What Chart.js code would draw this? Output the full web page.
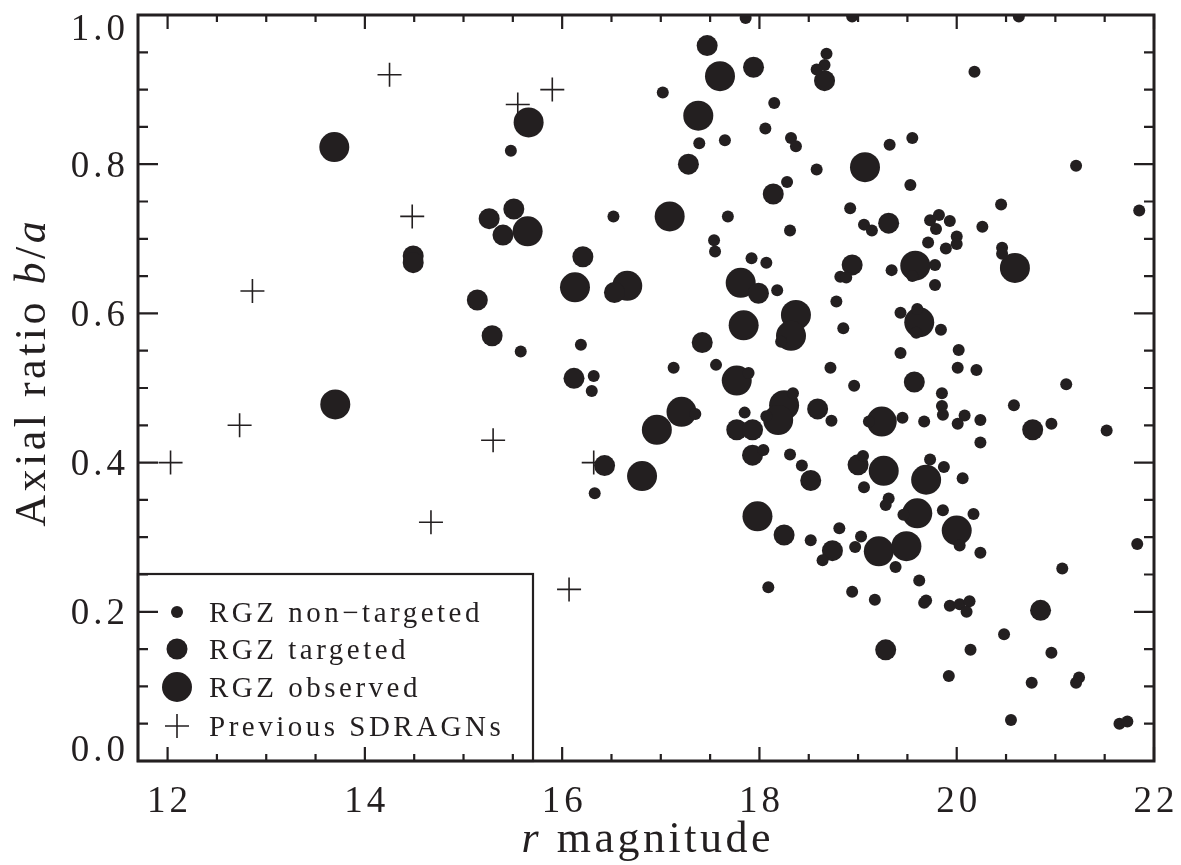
<!DOCTYPE html>
<html><head><meta charset="utf-8">
<script src="https://cdn.jsdelivr.net/npm/chart.js@4/dist/chart.umd.min.js"></script>
<style>html,body{margin:0;padding:0;background:#fff}#wrap{width:1181px;height:865px;position:relative}</style>
</head><body><div id="wrap"><canvas id="c"></canvas></div>
<script>
// ---- data: [r magnitude, axial ratio b/a] ----
const nonTargeted = [
[15.48,0.818],[15.58,0.549],[16.52,0.730],[16.19,0.558],[16.32,0.516],[16.30,0.496],[16.33,0.359],
[17.02,0.896],[17.39,0.828],[17.65,0.832],[17.68,0.730],[17.54,0.698],[17.55,0.683],[17.86,0.996],[18.94,0.998],[20.63,0.998],
[18.68,0.948],[18.66,0.933],[18.58,0.927],[20.18,0.924],[18.15,0.882],[18.06,0.848],[18.32,0.835],[18.37,0.824],[19.32,0.826],[19.55,0.835],
[18.58,0.793],[21.21,0.798],[18.28,0.776],[19.53,0.772],[18.31,0.711],[18.92,0.741],[19.06,0.719],[19.14,0.711],[20.45,0.746],[21.85,0.738],
[19.73,0.725],[19.82,0.732],[19.93,0.724],[19.79,0.713],[20.26,0.716],[20.00,0.703],[20.00,0.693],[19.71,0.695],[19.89,0.687],[20.46,0.688],[20.46,0.680],
[17.92,0.674],[18.07,0.668],[18.18,0.631],[18.82,0.649],[18.88,0.648],[19.34,0.658],[19.78,0.665],[19.55,0.650],[19.78,0.638],
[18.78,0.616],[18.22,0.562],[18.85,0.580],[19.43,0.601],[19.60,0.606],[19.59,0.574],[19.84,0.578],[19.43,0.547],[20.02,0.551],
[17.13,0.527],[17.56,0.531],[17.89,0.520],[18.72,0.527],[18.96,0.503],[20.01,0.527],[20.20,0.524],[21.11,0.505],[19.85,0.493],[19.85,0.476],[19.86,0.464],[20.08,0.463],[20.01,0.452],[20.24,0.457],[20.24,0.427],[20.58,0.477],[20.96,0.452],[21.52,0.443],
[17.35,0.465],[17.85,0.467],[18.34,0.493],[18.07,0.462],[18.73,0.456],[19.11,0.455],[19.45,0.460],[19.67,0.455],
[18.04,0.417],[18.31,0.411],[18.43,0.396],[19.05,0.409],[19.06,0.367],[19.73,0.404],[19.87,0.394],[20.06,0.379],
[18.52,0.296],[18.81,0.312],[18.64,0.269],[19.03,0.301],[18.97,0.287],[19.38,0.260],[19.31,0.352],[19.28,0.343],[19.46,0.330],[19.86,0.336],[20.03,0.289],[20.17,0.331],[20.24,0.279],[19.62,0.242],[18.94,0.227],[19.17,0.216],[19.69,0.215],[19.67,0.212],[19.93,0.208],[20.03,0.210],[20.13,0.214],[20.10,0.200],[20.48,0.170],[21.07,0.258],[21.83,0.291],[18.09,0.233],
[20.14,0.149],[20.96,0.145],[19.92,0.114],[20.76,0.105],[21.24,0.112],[21.21,0.105],[20.55,0.055],[21.65,0.050],[21.73,0.053]
];
const targeted = [
[14.49,0.677],[14.49,0.668],[15.26,0.727],[15.51,0.740],[15.40,0.705],[15.14,0.618],[15.29,0.570],[16.21,0.676],[16.53,0.628],[16.12,0.513],[16.43,0.396],
[17.47,0.959],[17.94,0.930],[18.66,0.912],[17.28,0.800],[18.14,0.760],[19.31,0.721],[18.94,0.665],[17.99,0.627],[17.42,0.561],[19.57,0.508],[18.59,0.472],
[17.77,0.444],[17.93,0.444],[20.77,0.444],[17.93,0.410],[18.52,0.376],[19.00,0.397],[18.25,0.303],[18.74,0.282],[20.85,0.202],[19.28,0.149]
];
const observed = [
[13.69,0.823],[13.70,0.478],[15.66,0.856],[15.65,0.710],[16.13,0.635],[16.66,0.637],[17.09,0.730],[17.60,0.918],[17.38,0.865],[17.81,0.641],
[17.84,0.584],[18.37,0.598],[18.32,0.570],[19.07,0.796],[19.58,0.664],[19.62,0.588],[20.59,0.661],[17.77,0.510],[17.21,0.468],[16.96,0.444],
[18.25,0.477],[18.19,0.457],[19.24,0.455],[16.81,0.382],[19.26,0.389],[19.69,0.377],[17.98,0.328],[19.21,0.281],[19.49,0.288],[19.60,0.332],[20.00,0.309]
];
const previousSDRAGNs = [
[12.03,0.40],[12.73,0.45],[12.86,0.63],[14.25,0.92],[14.48,0.73],[14.67,0.32],[15.30,0.43],[15.55,0.88],[15.90,0.90],[16.07,0.23],[16.32,0.40]
];
const seriesLabels = ['RGZ non\u2212targeted','RGZ targeted','RGZ observed','Previous SDRAGNs'];
const xMajorTicks = [12,14,16,18,20,22];
const yMajorTicks = [0.0,0.2,0.4,0.6,0.8,1.0];
const xMinorStep = 0.5, yMinorStep = 0.05;
const xRange = [11.7, 22], yRange = [0, 1];

// ---- styling ----
const INK = '#231f20';
const SERIF = '"Liberation Serif", "Times New Roman", serif';
const toXY = a => a.map(p => ({x:p[0], y:p[1]}));
const styles = [
  {pointStyle:'circle', radius:6, borderWidth:0},
  {pointStyle:'circle', radius:10.5, borderWidth:0},
  {pointStyle:'circle', radius:15, borderWidth:0},
  {pointStyle:'cross', radius:12, borderWidth:1.6}
];
const seriesData = [nonTargeted, targeted, observed, previousSDRAGNs];

function spaced(ctx, text, x, y, align, spacing){
  ctx.letterSpacing = spacing + 'px';
  const w = ctx.measureText(text).width - spacing;
  let sx = x;
  if (align === 'center') sx = x - w/2;
  else if (align === 'right') sx = x - w;
  ctx.textAlign = 'left';
  ctx.fillText(text, sx, y);
  ctx.letterSpacing = '0px';
  return w;
}

const framePlugin = {
  id: 'frame',
  afterDatasetsDraw(chart){
    const {ctx, chartArea:a, scales:{x, y}} = chart;
    ctx.save();
    ctx.strokeStyle = INK; ctx.fillStyle = INK;
    // legend box
    ctx.lineWidth = 2.2;
    const lx0 = a.left, lx1 = 533, ly0 = 574;
    ctx.strokeRect(lx0, ly0, lx1 - lx0, a.bottom - ly0);
    const rows = [612, 649, 687, 726];
    ctx.font = '29px ' + SERIF;
    ctx.textBaseline = 'alphabetic';
    for (let i = 0; i < 4; i++){
      const st = styles[i];
      ctx.fillStyle = INK; ctx.strokeStyle = INK; ctx.lineWidth = st.borderWidth;
      Chart.helpers.drawPoint(ctx, {pointStyle: st.pointStyle, radius: st.radius, borderWidth: st.borderWidth, rotation: 0}, 177, rows[i]);
      ctx.fillStyle = INK;
      spaced(ctx, seriesLabels[i], 209, rows[i] + 10, 'left', 3.5);
    }
    // axes box
    ctx.strokeStyle = INK; ctx.lineWidth = 3;
    ctx.strokeRect(a.left, a.top, a.right - a.left, a.bottom - a.top);
    // ticks
    ctx.lineWidth = 2.2;
    ctx.beginPath();
    const x0 = xMajorTicks[0], x1 = xMajorTicks[xMajorTicks.length-1];
    for (let i = 0; x0 + i*xMinorStep <= x1 + 1e-9; i++){
      const v = x0 + i*xMinorStep;
      const major = xMajorTicks.some(t => Math.abs(t - v) < 1e-9);
      const L = major ? 14 : 7;
      const px = x.getPixelForValue(v);
      ctx.moveTo(px, a.bottom); ctx.lineTo(px, a.bottom - L);
      ctx.moveTo(px, a.top); ctx.lineTo(px, a.top + L);
    }
    const y0 = yMajorTicks[0], y1 = yMajorTicks[yMajorTicks.length-1];
    for (let i = 0; y0 + i*yMinorStep <= y1 + 1e-9; i++){
      const v = y0 + i*yMinorStep;
      const major = yMajorTicks.some(t => Math.abs(t - v) < 1e-9);
      const L = major ? 20 : 10;
      const py = y.getPixelForValue(v);
      ctx.moveTo(a.left, py); ctx.lineTo(a.left + L, py);
      ctx.moveTo(a.right, py); ctx.lineTo(a.right - L, py);
    }
    ctx.stroke();
    // tick labels
    ctx.fillStyle = INK;
    ctx.font = '37px ' + SERIF;
    ctx.textBaseline = 'alphabetic';
    xMajorTicks.forEach(v => spaced(ctx, String(v), x.getPixelForValue(v), 812, 'center', 4));
    yMajorTicks.forEach(v => {
      const py = y.getPixelForValue(v);
      let base = py + 12.5;
      base = Math.max(a.top + 25, Math.min(a.bottom, base));
      spaced(ctx, v.toFixed(1), 125, base, 'right', 4);
    });
    // x title: italic r + " magnitude"
    const tSize = 44, tSp = 3.5;
    const upright = tSize + 'px ' + SERIF, ital = 'italic ' + tSize + 'px ' + SERIF;
    const drawParts = (parts, cx, base) => {
      let total = 0;
      parts.forEach(p => { ctx.font = p[1]; ctx.letterSpacing = tSp + 'px'; p.w = ctx.measureText(p[0]).width; total += p.w; });
      total -= tSp;
      let sx = cx - total/2;
      ctx.textAlign = 'left';
      parts.forEach(p => { ctx.font = p[1]; ctx.letterSpacing = tSp + 'px'; ctx.fillText(p[0], sx, base); sx += p.w; });
      ctx.letterSpacing = '0px';
    };
    drawParts([['r', ital], [' magnitude', upright]], (a.left + a.right)/2, 852);
    ctx.save();
    ctx.translate(45, 374);
    ctx.rotate(-Math.PI/2);
    drawParts([['Axial ratio ', upright], ['b', ital], ['/', upright], ['a', ital]], 0, 0);
    ctx.restore();
    ctx.restore();
  }
};

new Chart(document.getElementById('c'), {
  type: 'scatter',
  data: {
    datasets: seriesData.map((d, i) => ({
      label: seriesLabels[i],
      data: toXY(d),
      pointStyle: styles[i].pointStyle,
      pointRadius: styles[i].radius,
      pointHoverRadius: styles[i].radius,
      pointBorderWidth: styles[i].borderWidth,
      backgroundColor: INK,
      borderColor: INK
    }))
  },
  options: {
    responsive: true,
    maintainAspectRatio: false,
    animation: false,
    devicePixelRatio: 1,
    layout: {padding: {top: 11, right: 27, left: 0, bottom: 0}},
    plugins: {legend: {display: false}, tooltip: {enabled: false}},
    events: [],
    scales: {
      x: {
        type: 'linear', min: xRange[0], max: xRange[1],
        grid: {display: false}, border: {display: false},
        ticks: {display: false},
        afterFit: s => { s.height = 104; }
      },
      y: {
        type: 'linear', min: yRange[0], max: yRange[1],
        grid: {display: false}, border: {display: false},
        ticks: {display: false},
        afterFit: s => { s.width = 138; }
      }
    }
  },
  plugins: [framePlugin]
});
</script>
</body></html>
